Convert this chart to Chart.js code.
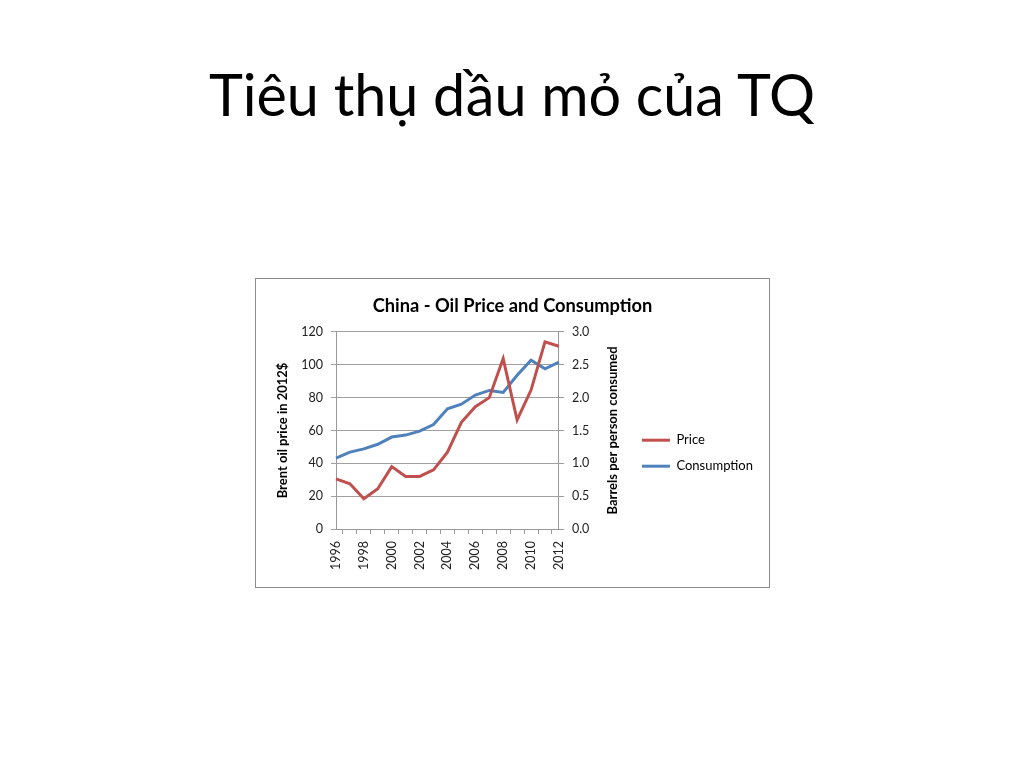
<!DOCTYPE html>
<html>
<head>
<meta charset="utf-8">
<script src="https://cdn.jsdelivr.net/npm/chart.js@4.4.1/dist/chart.umd.min.js"></script>
<style>
  html, body { margin: 0; padding: 0; background: #fff; width: 1024px; height: 768px; overflow: hidden; }
  h1 { position: absolute; left: 0; top: 65px; width: 1024px; margin: 0; text-align: center;
       font-family: Lato, "Open Sans", sans-serif; font-weight: normal; font-size: 57.5px; color: #000; line-height: 1; }
  #box { position: absolute; left: 255px; top: 278px; width: 513px; height: 308px; border: 1px solid #8c8c8c; background: #fff; }
  canvas { display: block; }
</style>
</head>
<body>
<h1>Tiêu thụ dầu mỏ của TQ</h1>
<div id="box"><canvas id="c" width="513" height="308"></canvas></div>
<script>
const years = ['1996','1997','1998','1999','2000','2001','2002','2003','2004','2005','2006','2007','2008','2009','2010','2011','2012'];
const price = [30.5, 27.5, 18.4, 24.5, 38, 32, 32, 36, 46.8, 65, 74.5, 80, 103.8, 66.4, 84.6, 114, 111.3];
const consumption = [1.08, 1.17, 1.22, 1.29, 1.40, 1.43, 1.49, 1.59, 1.83, 1.90, 2.04, 2.11, 2.08, 2.34, 2.57, 2.44, 2.54];
const priceTicks = [0, 20, 40, 60, 80, 100, 120];
const consTicks = [0, 0.5, 1.0, 1.5, 2.0, 2.5, 3.0];
const rightTitle = 'Barrels per person consumed';

const FONT = 'Lato, "Open Sans", sans-serif';
const AX = '#999999';
const GRID = '#a0a0a0';

// Right-axis title reads bottom-to-top, like the left one
const rightTitlePlugin = {
  id: 'rightTitle',
  afterDraw(chart) {
    const s = chart.scales.y1;
    const ctx = chart.ctx;
    ctx.save();
    ctx.translate(s.right - 16, (s.top + s.bottom) / 2);
    ctx.rotate(-Math.PI / 2);
    ctx.font = 'bold 13px ' + FONT;
    ctx.fillStyle = '#000';
    ctx.textAlign = 'center';
    ctx.textBaseline = 'middle';
    ctx.fillText(rightTitle, 0, 0);
    ctx.restore();
  }
};

new Chart(document.getElementById('c'), {
  type: 'line',
  data: {
    labels: years,
    datasets: [
      { label: 'Price', data: price, yAxisID: 'y', borderColor: '#C0504D', backgroundColor: '#C0504D', borderWidth: 3, pointRadius: 0, tension: 0 },
      { label: 'Consumption', data: consumption, yAxisID: 'y1', borderColor: '#4F81BD', backgroundColor: '#4F81BD', borderWidth: 3, pointRadius: 0, tension: 0 }
    ]
  },
  plugins: [rightTitlePlugin],
  options: {
    responsive: false,
    animation: false,
    layout: { padding: { left: 6, right: 6, top: 0, bottom: 4 } },
    plugins: {
      title: { display: true, text: 'China - Oil Price and Consumption', color: '#000',
               font: { family: FONT, size: 18.3, weight: 'bold' }, padding: { top: 16, bottom: 15 } },
      legend: {
        position: 'right',
        maxWidth: 300,
        title: { display: true, text: ' ', padding: { top: 20, bottom: 10 } },
        labels: { usePointStyle: true, pointStyle: 'line', pointStyleWidth: 28, boxHeight: 12,
                  color: '#000', font: { family: FONT, size: 13 }, padding: 13 }
      },
      tooltip: { enabled: false }
    },
    scales: {
      x: {
        type: 'category',
        afterFit: s => { s.height = 54; },
        grid: { offset: true, drawOnChartArea: false, tickLength: 5, color: AX },
        border: { color: AX },
        ticks: { autoSkip: false, minRotation: 90, maxRotation: 90, color: '#222', padding: 7,
                 font: { family: FONT, size: 12.5 },
                 callback: function (v, i) { return i % 2 === 0 ? years[i] : ''; } }
      },
      y: {
        position: 'left', min: 0, max: 120,
        afterFit: s => { s.width = 74; },
        afterBuildTicks: s => { s.ticks = priceTicks.map(v => ({ value: v })); },
        grid: { color: GRID, tickLength: 5 },
        border: { color: AX },
        ticks: { color: '#222', font: { family: FONT, size: 12.5 }, padding: 8 },
        title: { display: true, text: 'Brent oil price in 2012$', color: '#000', padding: { top: 13, bottom: 4 },
                 font: { family: FONT, size: 13, weight: 'bold' } }
      },
      y1: {
        position: 'right', min: 0, max: 3,
        afterFit: s => { s.width = 70; },
        afterBuildTicks: s => { s.ticks = consTicks.map(v => ({ value: v })); },
        grid: { drawOnChartArea: false, color: AX, tickLength: 5 },
        border: { color: AX },
        ticks: { color: '#222', font: { family: FONT, size: 12.5 }, padding: 8, callback: v => Number(v).toFixed(1) },
        title: { display: false }
      }
    }
  }
});
</script>
</body>
</html>
